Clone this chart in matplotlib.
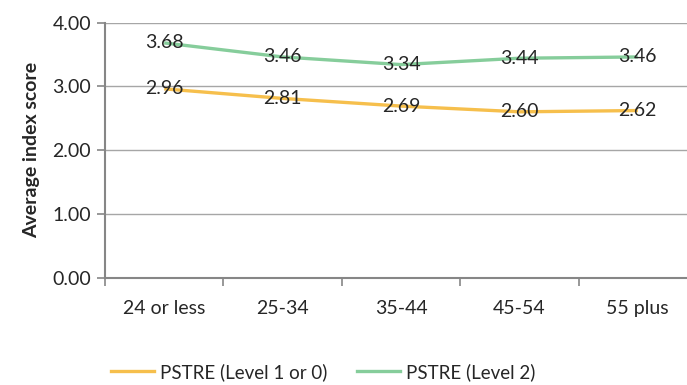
import matplotlib
matplotlib.use("Agg")
import matplotlib.pyplot as plt
from matplotlib.lines import Line2D

plt.rcParams['font.family'] = ['Lato', 'DejaVu Sans']

categories = ["24 or less", "25-34", "35-44", "45-54", "55 plus"]
level_1_or_0 = [2.96, 2.81, 2.69, 2.60, 2.62]
level_2 = [3.68, 3.46, 3.34, 3.44, 3.46]
series_names = ["PSTRE (Level 1 or 0)", "PSTRE (Level 2)"]
y_ticks = [0.0, 1.0, 2.0, 3.0, 4.0]

yellow = "#F6BF4C"
green = "#86CD9B"
grid_col = "#A6A6A6"
axis_col = "#868686"
text_col = "#262626"

fig = plt.figure(figsize=(6.87, 3.85), dpi=100)
# axes spans x from 105px to ~697px, y from 22.5px to 277.7px
W, H = 687, 385
ax = fig.add_axes([105 / W, 1 - 277.7 / H, (697 - 105) / W, (277.7 - 22.5) / H])

x = list(range(len(categories)))
ax.plot(x, level_1_or_0, color=yellow, lw=2.4, solid_capstyle="butt", zorder=3)
ax.plot(x, level_2, color=green, lw=2.4, solid_capstyle="butt", zorder=3)

for xi, v in zip(x, level_1_or_0):
    ax.text(xi, v, f"{v:.2f}", ha="center", va="center", fontsize=14, color=text_col, zorder=4)
for xi, v in zip(x, level_2):
    ax.text(xi, v, f"{v:.2f}", ha="center", va="center", fontsize=14, color=text_col, zorder=4)

ax.set_xlim(-0.5, len(categories) - 0.5)
ax.set_ylim(0, 4)
ax.set_yticks(y_ticks)
ax.set_yticklabels([f"{t:.2f}" for t in y_ticks], fontsize=14, color=text_col)
ax.yaxis.grid(True, color=grid_col, lw=1.0)
ax.set_axisbelow(True)

# category boundaries as major ticks, names centred between them
ax.set_xticks([i - 0.5 for i in range(len(categories) + 1)])
ax.set_xticklabels([])
ax.set_xticks(x, minor=True)
ax.set_xticklabels(categories, minor=True, fontsize=14, color=text_col)
ax.tick_params(axis="x", which="minor", length=0, pad=16)
ax.tick_params(axis="x", which="major", length=6, color=axis_col, width=1.2)
ax.tick_params(axis="y", length=6, color=axis_col, width=1.2, pad=4)

for side in ("top", "right"):
    ax.spines[side].set_visible(False)
ax.spines["left"].set_color(axis_col)
ax.spines["left"].set_linewidth(1.5)
ax.spines["bottom"].set_color(axis_col)
ax.spines["bottom"].set_linewidth(1.5)

ax.set_ylabel("Average index score", fontsize=14, fontweight="bold", color=text_col, labelpad=9)

handles = [Line2D([], [], color=yellow, lw=2.4), Line2D([], [], color=green, lw=2.4)]
fig.legend(handles, series_names, loc="center", bbox_to_anchor=(323 / W, 1 - 372 / H),
           ncol=2, frameon=False, fontsize=13.5, handlelength=2.3, handletextpad=0.3,
           columnspacing=1.6, labelcolor=text_col)

fig.savefig("out.png", dpi=100)
